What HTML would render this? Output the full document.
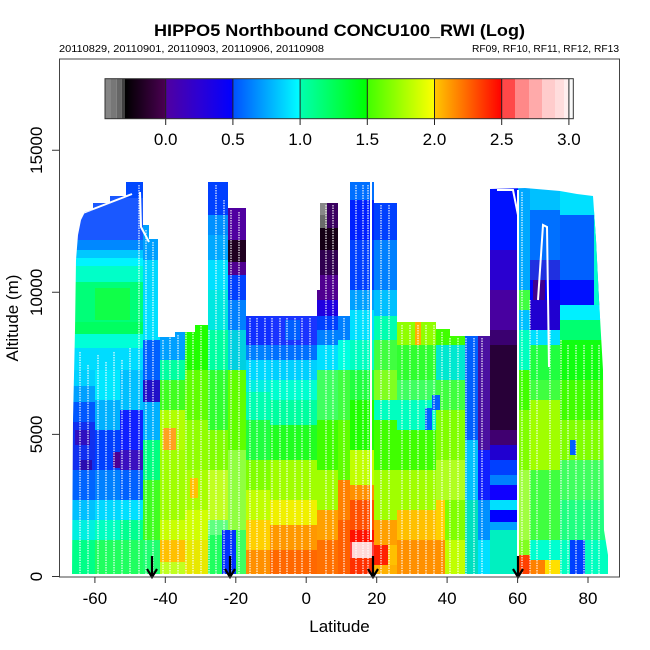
<!DOCTYPE html>
<html><head><meta charset="utf-8"><style>
html,body{margin:0;padding:0;background:#fff;}
svg{display:block;font-family:"Liberation Sans",Arial,sans-serif;}
</style></head><body>
<svg width="650" height="650" viewBox="0 0 650 650" xmlns="http://www.w3.org/2000/svg">
<defs>
<linearGradient id="g1"><stop offset="0" stop-color="#000000"/><stop offset="1" stop-color="#4b0052"/></linearGradient>
<linearGradient id="g2"><stop offset="0" stop-color="#5000a0"/><stop offset="0.5" stop-color="#2c00d4"/><stop offset="1" stop-color="#0000ff"/></linearGradient>
<linearGradient id="g3"><stop offset="0" stop-color="#0050ff"/><stop offset="1" stop-color="#00ffff"/></linearGradient>
<linearGradient id="g4"><stop offset="0" stop-color="#00ffb0"/><stop offset="1" stop-color="#00ff00"/></linearGradient>
<linearGradient id="g5"><stop offset="0" stop-color="#40ff00"/><stop offset="1" stop-color="#ffff00"/></linearGradient>
<linearGradient id="g6"><stop offset="0" stop-color="#ffc800"/><stop offset="1" stop-color="#ff0000"/></linearGradient>
<clipPath id="dc"><path d="M72,574 L73,420 L75,330 L76,260 L78,235 L81,220 L85,212 L93,210 L93,203 L110,203 L110,196 L126,196 L126,182 L143,182 L143,225 L149,225 L149,239 L158,239 L158,337 L175,337 L175,332 L195,332 L195,325 L208,325 L208,182 L228,182 L228,208 L246,208 L246,316 L317,316 L317,290 L320,290 L320,203 L338,203 L338,316 L350,316 L350,182 L374,182 L374,203 L397,203 L397,322 L436,322 L436,329 L450,329 L450,336 L490,336 L490,189 L525,188 L560,191 L577,194 L593,196 L596,240 L599,300 L603,370 L604,530 L608,555 L608,574 Z"/></clipPath>
</defs>

<!-- Title -->
<text x="339.5" y="36" font-size="17" font-weight="bold" text-anchor="middle" textLength="371" lengthAdjust="spacingAndGlyphs">HIPPO5 Northbound CONCU100_RWI (Log)</text>
<text x="59" y="52" font-size="10" textLength="265" lengthAdjust="spacingAndGlyphs">20110829, 20110901, 20110903, 20110906, 20110908</text>
<text x="472" y="52" font-size="10" textLength="147" lengthAdjust="spacingAndGlyphs">RF09, RF10, RF11, RF12, RF13</text>

<!-- Data -->
<g clip-path="url(#dc)">
<!-- upper left block -->
<rect x="70" y="180" width="73" height="60" fill="#1a58ff"/>
<rect x="70" y="240" width="73" height="10" fill="#0088ff"/>
<rect x="70" y="250" width="73" height="8" fill="#00c8ff"/>
<rect x="70" y="258" width="73" height="8" fill="#00f4ff"/>
<rect x="70" y="266" width="73" height="16" fill="#00ffc8"/>
<rect x="70" y="282" width="73" height="40" fill="#00ff78"/>
<rect x="95" y="288" width="35" height="32" fill="#10ff48"/>
<rect x="70" y="322" width="73" height="12" fill="#00ff60"/>
<rect x="70" y="334" width="73" height="14" fill="#00ffd8"/>
<rect x="70" y="348" width="73" height="22" fill="#00dcff"/>
<rect x="120" y="180" width="23" height="18" fill="#0048ff"/>
<!-- S1 lower -->
<rect x="70" y="370" width="25" height="16" fill="#00d0ff"/>
<rect x="70" y="386" width="25" height="16" fill="#00a0ff"/>
<rect x="70" y="402" width="25" height="20" fill="#0058ff"/>
<rect x="70" y="422" width="25" height="48" fill="#1030f0"/>
<rect x="75" y="430" width="15" height="15" fill="#3010c0"/>
<rect x="80" y="460" width="12" height="15" fill="#2a0cb0"/>
<rect x="70" y="470" width="25" height="30" fill="#0064ff"/>
<rect x="70" y="500" width="25" height="20" fill="#00c0ff"/>
<rect x="70" y="520" width="25" height="20" fill="#00f0e0"/>
<rect x="70" y="540" width="25" height="34" fill="#00ff88"/>
<!-- S2 lower -->
<rect x="95" y="370" width="25" height="30" fill="#00e8ff"/>
<rect x="95" y="400" width="25" height="30" fill="#00b0ff"/>
<rect x="95" y="430" width="25" height="40" fill="#0040ff"/>
<rect x="95" y="470" width="25" height="30" fill="#0080ff"/>
<rect x="95" y="500" width="25" height="20" fill="#00d8ff"/>
<rect x="95" y="520" width="25" height="20" fill="#00ffc0"/>
<rect x="95" y="540" width="25" height="34" fill="#20ff60"/>
<!-- S3 lower -->
<rect x="120" y="370" width="23" height="40" fill="#00c0ff"/>
<rect x="120" y="410" width="23" height="40" fill="#1020ff"/>
<rect x="113" y="452" width="16" height="16" fill="#4a0098"/>
<rect x="120" y="450" width="23" height="20" fill="#3a10c0"/>
<rect x="120" y="470" width="23" height="30" fill="#0060ff"/>
<rect x="120" y="500" width="23" height="20" fill="#00e0ff"/>
<rect x="120" y="520" width="23" height="20" fill="#00ff90"/>
<rect x="120" y="540" width="23" height="34" fill="#20ff60"/>
<!-- S4 -->
<rect x="143" y="180" width="17" height="80" fill="#00a0ff"/>
<rect x="143" y="260" width="17" height="40" fill="#00d8ff"/>
<rect x="143" y="300" width="17" height="40" fill="#00e0ff"/>
<rect x="143" y="340" width="17" height="40" fill="#0060ff"/>
<rect x="143" y="380" width="17" height="22" fill="#2010c8"/>
<rect x="143" y="402" width="17" height="38" fill="#00b0ff"/>
<rect x="143" y="440" width="17" height="40" fill="#00ff80"/>
<rect x="143" y="480" width="17" height="60" fill="#40ff20"/>
<rect x="143" y="540" width="17" height="34" fill="#20ff70"/>
<!-- S5a -->
<rect x="160" y="180" width="25" height="180" fill="#00a0ff"/>
<rect x="160" y="360" width="25" height="20" fill="#00ffa0"/>
<rect x="160" y="380" width="25" height="30" fill="#40ff20"/>
<rect x="160" y="410" width="25" height="40" fill="#b0ff00"/>
<rect x="163" y="428" width="13" height="24" fill="#ffa020"/>
<rect x="160" y="450" width="25" height="70" fill="#a0ff00"/>
<rect x="160" y="520" width="25" height="20" fill="#c8ff00"/>
<rect x="160" y="540" width="25" height="22" fill="#ffc000"/>
<rect x="160" y="562" width="25" height="12" fill="#c0ff20"/>
<!-- S5b -->
<rect x="185" y="180" width="23" height="190" fill="#20ff00"/>
<rect x="185" y="370" width="23" height="50" fill="#60ff00"/>
<rect x="185" y="420" width="23" height="50" fill="#90ff00"/>
<rect x="185" y="470" width="23" height="40" fill="#a8ff00"/>
<rect x="190" y="478" width="8" height="20" fill="#ffc000"/>
<rect x="185" y="510" width="23" height="30" fill="#d0ff00"/>
<rect x="185" y="540" width="23" height="34" fill="#e8e800"/>
<!-- S6 -->
<rect x="208" y="180" width="20" height="35" fill="#0040ff"/>
<rect x="208" y="215" width="20" height="20" fill="#0090ff"/>
<rect x="208" y="235" width="20" height="25" fill="#00a8ff"/>
<rect x="208" y="260" width="20" height="30" fill="#00e0ff"/>
<rect x="208" y="290" width="20" height="40" fill="#00e8e0"/>
<rect x="208" y="330" width="20" height="40" fill="#00ffa0"/>
<rect x="208" y="370" width="20" height="60" fill="#30ff30"/>
<rect x="208" y="430" width="20" height="40" fill="#80ff00"/>
<rect x="208" y="470" width="20" height="50" fill="#c0ff20"/>
<rect x="208" y="520" width="20" height="15" fill="#60ff80"/>
<rect x="208" y="535" width="20" height="39" fill="#20ff60"/>
<rect x="222" y="530" width="14" height="44" fill="#0030ff"/>
<!-- S7 -->
<rect x="228" y="180" width="18" height="60" fill="#5000a0"/>
<rect x="228" y="240" width="18" height="22" fill="#200020"/>
<rect x="228" y="262" width="18" height="13" fill="#500090"/>
<rect x="228" y="275" width="18" height="25" fill="#0040ff"/>
<rect x="228" y="300" width="18" height="30" fill="#0080ff"/>
<rect x="228" y="330" width="18" height="40" fill="#00d0e0"/>
<rect x="228" y="370" width="18" height="80" fill="#60ff00"/>
<rect x="228" y="450" width="18" height="80" fill="#90ff40"/>
<rect x="236" y="530" width="10" height="44" fill="#40ff60"/>
<!-- S8a -->
<rect x="246" y="180" width="24" height="165" fill="#1030ff"/>
<rect x="246" y="345" width="24" height="15" fill="#0080ff"/>
<rect x="246" y="360" width="24" height="20" fill="#00d8ff"/>
<rect x="246" y="380" width="24" height="12" fill="#00f0e0"/>
<rect x="246" y="392" width="24" height="28" fill="#00ffb0"/>
<rect x="246" y="420" width="24" height="40" fill="#20ff40"/>
<rect x="246" y="460" width="24" height="30" fill="#80ff00"/>
<rect x="246" y="490" width="24" height="30" fill="#c0ff00"/>
<rect x="246" y="520" width="24" height="30" fill="#ffd000"/>
<rect x="246" y="550" width="24" height="24" fill="#ff9000"/>
<!-- S8b -->
<rect x="270" y="180" width="50" height="165" fill="#1a34ff"/>
<rect x="285" y="320" width="15" height="20" fill="#0060ff"/>
<rect x="270" y="345" width="50" height="15" fill="#0070ff"/>
<rect x="270" y="360" width="50" height="20" fill="#00d0ff"/>
<rect x="270" y="380" width="50" height="20" fill="#00ffd0"/>
<rect x="270" y="400" width="50" height="25" fill="#00ffa0"/>
<rect x="270" y="425" width="50" height="35" fill="#20ff20"/>
<rect x="270" y="460" width="50" height="40" fill="#a0ff00"/>
<rect x="270" y="500" width="50" height="25" fill="#f0f000"/>
<rect x="270" y="525" width="50" height="25" fill="#ff9800"/>
<rect x="270" y="550" width="50" height="24" fill="#ff6800"/>
<!-- S9 spike -->
<rect x="317" y="180" width="21" height="48" fill="#3a0060"/>
<rect x="320" y="203" width="7" height="12" fill="#888888"/>
<rect x="320" y="215" width="7" height="13" fill="#6a6a6a"/>
<rect x="317" y="228" width="21" height="22" fill="#150015"/>
<rect x="317" y="250" width="21" height="25" fill="#300050"/>
<rect x="317" y="275" width="21" height="25" fill="#500090"/>
<rect x="317" y="300" width="21" height="16" fill="#2000e0"/>
<rect x="317" y="316" width="21" height="14" fill="#0040ff"/>
<rect x="317" y="330" width="21" height="15" fill="#0080ff"/>
<rect x="317" y="345" width="21" height="25" fill="#00e0ff"/>
<rect x="317" y="370" width="21" height="50" fill="#40ff60"/>
<rect x="317" y="420" width="21" height="50" fill="#40ff00"/>
<rect x="317" y="470" width="21" height="40" fill="#a0ff00"/>
<rect x="317" y="510" width="21" height="30" fill="#ffa000"/>
<rect x="317" y="540" width="21" height="34" fill="#ff7000"/>
<!-- S10 -->
<rect x="338" y="180" width="12" height="160" fill="#0080ff"/>
<rect x="338" y="340" width="12" height="30" fill="#00ffe0"/>
<rect x="338" y="370" width="12" height="50" fill="#40ff40"/>
<rect x="338" y="420" width="12" height="60" fill="#60ff00"/>
<rect x="338" y="480" width="12" height="40" fill="#ff8000"/>
<rect x="338" y="520" width="12" height="54" fill="#ff6000"/>
<!-- S11 tall spike -->
<rect x="350" y="180" width="24" height="20" fill="#0070ff"/>
<rect x="350" y="200" width="24" height="40" fill="#0020ff"/>
<rect x="350" y="240" width="24" height="50" fill="#0040ff"/>
<rect x="350" y="290" width="24" height="20" fill="#00a0ff"/>
<rect x="350" y="310" width="24" height="30" fill="#00e0ff"/>
<rect x="350" y="340" width="24" height="30" fill="#00ffc0"/>
<rect x="350" y="370" width="24" height="30" fill="#20ff40"/>
<rect x="350" y="400" width="24" height="50" fill="#20ff00"/>
<rect x="350" y="450" width="24" height="35" fill="#c0ff00"/>
<rect x="350" y="485" width="24" height="15" fill="#ff9000"/>
<rect x="350" y="500" width="24" height="30" fill="#ff5000"/>
<rect x="350" y="530" width="24" height="12" fill="#ff1000"/>
<rect x="350" y="542" width="24" height="16" fill="#ff4040"/>
<rect x="352" y="542" width="20" height="16" fill="#ffd8d8"/>
<rect x="350" y="558" width="24" height="16" fill="#ff3000"/>
<!-- S12 -->
<rect x="374" y="180" width="23" height="60" fill="#0040ff"/>
<rect x="374" y="240" width="23" height="50" fill="#0080ff"/>
<rect x="374" y="290" width="23" height="26" fill="#00c0ff"/>
<rect x="374" y="316" width="23" height="24" fill="#00ffb0"/>
<rect x="374" y="340" width="23" height="30" fill="#40ff40"/>
<rect x="374" y="370" width="23" height="30" fill="#80ff20"/>
<rect x="374" y="400" width="23" height="20" fill="#00ffc0"/>
<rect x="374" y="420" width="23" height="50" fill="#40ff00"/>
<rect x="374" y="470" width="23" height="50" fill="#a0ff00"/>
<rect x="374" y="520" width="23" height="25" fill="#ffa000"/>
<rect x="374" y="545" width="14" height="20" fill="#ff2000"/>
<rect x="388" y="545" width="9" height="20" fill="#ffc000"/>
<rect x="374" y="565" width="23" height="9" fill="#ffb000"/>
<!-- S13 -->
<rect x="397" y="180" width="39" height="165" fill="#90ff00"/>
<rect x="415" y="322" width="6" height="38" fill="#ffb000"/>
<rect x="397" y="345" width="39" height="35" fill="#30ff30"/>
<rect x="397" y="380" width="39" height="20" fill="#40ff60"/>
<rect x="397" y="400" width="39" height="30" fill="#00ffc0"/>
<rect x="425" y="408" width="7" height="22" fill="#0060ff"/>
<rect x="397" y="430" width="39" height="40" fill="#40ff00"/>
<rect x="397" y="470" width="39" height="40" fill="#a0ff00"/>
<rect x="397" y="510" width="39" height="30" fill="#ffc000"/>
<rect x="397" y="540" width="39" height="34" fill="#ff9000"/>
<!-- S14 -->
<rect x="436" y="180" width="29" height="165" fill="#40ff00"/>
<rect x="436" y="345" width="29" height="35" fill="#00e8d0"/>
<rect x="436" y="380" width="29" height="30" fill="#40ff40"/>
<rect x="432" y="395" width="8" height="15" fill="#0060ff"/>
<rect x="436" y="410" width="29" height="50" fill="#80ff00"/>
<rect x="436" y="460" width="29" height="40" fill="#b0ff20"/>
<rect x="436" y="500" width="9" height="40" fill="#ffd000"/>
<rect x="445" y="500" width="20" height="40" fill="#80ff00"/>
<rect x="436" y="540" width="9" height="34" fill="#ff9000"/>
<rect x="445" y="540" width="20" height="34" fill="#c0ff00"/>
<!-- S15 -->
<rect x="465" y="180" width="13" height="260" fill="#0060ff"/>
<rect x="465" y="440" width="13" height="60" fill="#00c0ff"/>
<rect x="465" y="500" width="13" height="74" fill="#00e0c0"/>
<rect x="478" y="180" width="12" height="270" fill="#4a10a0"/>
<rect x="478" y="450" width="12" height="50" fill="#1020ff"/>
<rect x="478" y="500" width="12" height="40" fill="#0090ff"/>
<rect x="478" y="540" width="12" height="34" fill="#00e0ff"/>
<!-- S16 -->
<rect x="490" y="180" width="28" height="70" fill="#0010ff"/>
<rect x="490" y="250" width="28" height="40" fill="#2a00d0"/>
<rect x="490" y="290" width="28" height="40" fill="#4800a0"/>
<rect x="490" y="330" width="28" height="15" fill="#3a0070"/>
<rect x="490" y="345" width="28" height="85" fill="#280038"/>
<rect x="490" y="430" width="28" height="15" fill="#400070"/>
<rect x="490" y="445" width="28" height="15" fill="#2000d0"/>
<rect x="490" y="460" width="28" height="15" fill="#0040ff"/>
<rect x="490" y="475" width="28" height="10" fill="#0080ff"/>
<rect x="490" y="485" width="28" height="15" fill="#1000ff"/>
<rect x="490" y="500" width="28" height="10" fill="#00e0ff"/>
<rect x="490" y="510" width="28" height="12" fill="#0000ff"/>
<rect x="490" y="522" width="28" height="8" fill="#00a0ff"/>
<rect x="490" y="530" width="28" height="44" fill="#00f0c0"/>
<!-- S17 -->
<rect x="518" y="180" width="12" height="110" fill="#00a8ff"/>
<rect x="518" y="290" width="12" height="20" fill="#40ff40"/>
<rect x="518" y="310" width="12" height="20" fill="#00c0ff"/>
<rect x="518" y="330" width="12" height="40" fill="#00ffc0"/>
<rect x="518" y="370" width="12" height="40" fill="#40ff00"/>
<rect x="518" y="410" width="12" height="60" fill="#80ff00"/>
<rect x="518" y="470" width="12" height="70" fill="#a0ff40"/>
<rect x="518" y="540" width="12" height="15" fill="#80ff20"/>
<rect x="518" y="555" width="12" height="19" fill="#ff4000"/>
<!-- S18 -->
<rect x="530" y="180" width="30" height="30" fill="#00c0ff"/>
<rect x="530" y="210" width="30" height="50" fill="#0070ff"/>
<rect x="530" y="260" width="30" height="20" fill="#2030e0"/>
<rect x="530" y="280" width="30" height="20" fill="#0000ff"/>
<rect x="533" y="280" width="12" height="20" fill="#400090"/>
<rect x="530" y="300" width="30" height="30" fill="#2000d0"/>
<rect x="530" y="330" width="30" height="15" fill="#00e0ff"/>
<rect x="530" y="345" width="30" height="35" fill="#20ff40"/>
<rect x="530" y="380" width="30" height="20" fill="#40ff40"/>
<rect x="530" y="400" width="30" height="70" fill="#a0ff00"/>
<rect x="530" y="470" width="30" height="70" fill="#40ff40"/>
<rect x="530" y="540" width="30" height="20" fill="#00ffd0"/>
<rect x="530" y="560" width="15" height="14" fill="#ff8000"/>
<rect x="545" y="560" width="15" height="14" fill="#ffe000"/>
<!-- S19 -->
<rect x="560" y="180" width="50" height="35" fill="#00e0ff"/>
<rect x="560" y="215" width="50" height="65" fill="#0060ff"/>
<rect x="560" y="280" width="50" height="25" fill="#0010ff"/>
<rect x="594" y="200" width="16" height="120" fill="#00ffd0"/>
<rect x="560" y="305" width="50" height="15" fill="#00f0ff"/>
<rect x="560" y="320" width="50" height="20" fill="#00ff70"/>
<rect x="560" y="340" width="50" height="40" fill="#10ff10"/>
<rect x="560" y="380" width="50" height="40" fill="#40ff00"/>
<rect x="560" y="420" width="50" height="40" fill="#80ff00"/>
<rect x="570" y="440" width="6" height="15" fill="#0060ff"/>
<rect x="560" y="460" width="50" height="40" fill="#40ff60"/>
<rect x="560" y="500" width="50" height="40" fill="#20ff80"/>
<rect x="560" y="540" width="50" height="34" fill="#00ffc0"/>
<rect x="570" y="540" width="15" height="34" fill="#0040ff"/>

<!-- white dotted flight tracks -->
<g stroke="#fff" stroke-width="1.3" stroke-dasharray="1.5,1" opacity="0.85" fill="none">
<path d="M80,352V574 M88,365V574 M98,355V574 M106,362V574 M114,352V574 M122,360V574 M130,348V574 M139,185V574 M146,230V574 M153,242V574
M163,340V574 M170,335V574 M178,335V574 M186,330V574 M193,330V574 M201,326V574 M209,330V574 M216,185V574 M224,200V574 M231,210V574 M239,212V574
M250,318V574 M257,318V574 M265,318V574 M272,318V574 M280,318V574 M287,318V574 M295,318V574 M302,318V574 M310,318V574
M326,205V574 M333,205V574 M344,318V574 M356,185V574 M363,185V574 M368,185V574 M381,205V574 M389,205V574
M402,325V574 M410,325V574 M418,325V574 M426,325V574 M434,325V574 M442,332V574 M450,338V574 M458,338V574 M466,338V574 M474,338V574 M482,338V574
M522,192V574 M530,300V574 M537,330V574 M550,330V574 M561,340V574 M568,345V574 M576,345V574 M584,345V574 M592,345V574 M599,345V574"/>
</g>
<g stroke="#fff" stroke-width="2" fill="none">
<path d="M83,213 L132,194"/>
<path d="M371,182 V540"/>
<path d="M518,190 V574"/>
<path d="M497,190 L513,190 L518,215"/>
<path d="M538,300 L543,225 L547,227 L549,367"/>
<path d="M140,192 L141,227 L149,242"/>
</g>
</g>

<!-- Colorbar -->
<rect x="105" y="78.7" width="6" height="40" fill="#858585"/>
<rect x="111" y="78.7" width="5.7" height="40" fill="#777"/>
<rect x="116.7" y="78.7" width="5" height="40" fill="#666"/>
<rect x="121.7" y="78.7" width="3.3" height="40" fill="#404040"/>
<rect x="125" y="78.7" width="40.7" height="40" fill="url(#g1)"/>
<rect x="165.7" y="78.7" width="67.2" height="40" fill="url(#g2)"/>
<rect x="232.9" y="78.7" width="67.2" height="40" fill="url(#g3)"/>
<rect x="300.1" y="78.7" width="67.2" height="40" fill="url(#g4)"/>
<rect x="367.3" y="78.7" width="67.2" height="40" fill="url(#g5)"/>
<rect x="434.5" y="78.7" width="67.2" height="40" fill="url(#g6)"/>
<rect x="501.7" y="78.7" width="13.3" height="40" fill="#ff4848"/>
<rect x="515" y="78.7" width="14" height="40" fill="#ff8888"/>
<rect x="529" y="78.7" width="13" height="40" fill="#ffaaaa"/>
<rect x="542" y="78.7" width="13" height="40" fill="#ffcccc"/>
<rect x="555" y="78.7" width="9" height="40" fill="#ffdddd"/>
<rect x="564" y="78.7" width="4" height="40" fill="#ffeeee"/>
<rect x="568" y="78.7" width="5.3" height="40" fill="#fafafa"/>
<g stroke="#222" stroke-width="1">
<path d="M165.7,78.7V125 M232.9,78.7V125 M300.1,78.7V125 M367.3,78.7V125 M434.5,78.7V125 M501.7,78.7V125 M568.9,78.7V125"/>
</g>
<rect x="105" y="78.7" width="468.3" height="40" fill="none" stroke="#333" stroke-width="1"/>
<g font-size="17" text-anchor="middle">
<text x="165.7" y="145">0.0</text>
<text x="232.9" y="145">0.5</text>
<text x="300.1" y="145">1.0</text>
<text x="367.3" y="145">1.5</text>
<text x="434.5" y="145">2.0</text>
<text x="501.7" y="145">2.5</text>
<text x="568.9" y="145">3.0</text>
</g>

<!-- Arrows -->
<g stroke="#000" stroke-width="2.2" fill="none">
<path d="M152,556V576 M147,569L152,577L157,569"/>
<path d="M230,556V576 M225,569L230,577L235,569"/>
<path d="M373,556V576 M368,569L373,577L378,569"/>
<path d="M518,556V576 M513,569L518,577L523,569"/>
</g>

<!-- Box & axes -->
<rect x="59.5" y="59" width="560" height="518" fill="none" stroke="#444" stroke-width="1"/>
<g stroke="#333" stroke-width="1">
<path d="M52,576.5H59.5 M52,434.4H59.5 M52,292.3H59.5 M52,150.2H59.5"/>
<path d="M94.9,577V583 M165.3,577V583 M235.8,577V583 M306.2,577V583 M376.7,577V583 M447.1,577V583 M517.6,577V583 M588,577V583"/>
</g>
<g font-size="17" text-anchor="middle">
<text x="94.9" y="604">-60</text>
<text x="165.3" y="604">-40</text>
<text x="235.8" y="604">-20</text>
<text x="306.2" y="604">0</text>
<text x="376.7" y="604">20</text>
<text x="447.1" y="604">40</text>
<text x="517.6" y="604">60</text>
<text x="588" y="604">80</text>
<text x="339.5" y="632">Latitude</text>
<text transform="translate(42,576.5) rotate(-90)">0</text>
<text transform="translate(42,434.4) rotate(-90)">5000</text>
<text transform="translate(42,292.3) rotate(-90)">10000</text>
<text transform="translate(42,150.2) rotate(-90)">15000</text>
<text transform="translate(18,318) rotate(-90)">Altitude (m)</text>
</g>
</svg>
</body></html>
